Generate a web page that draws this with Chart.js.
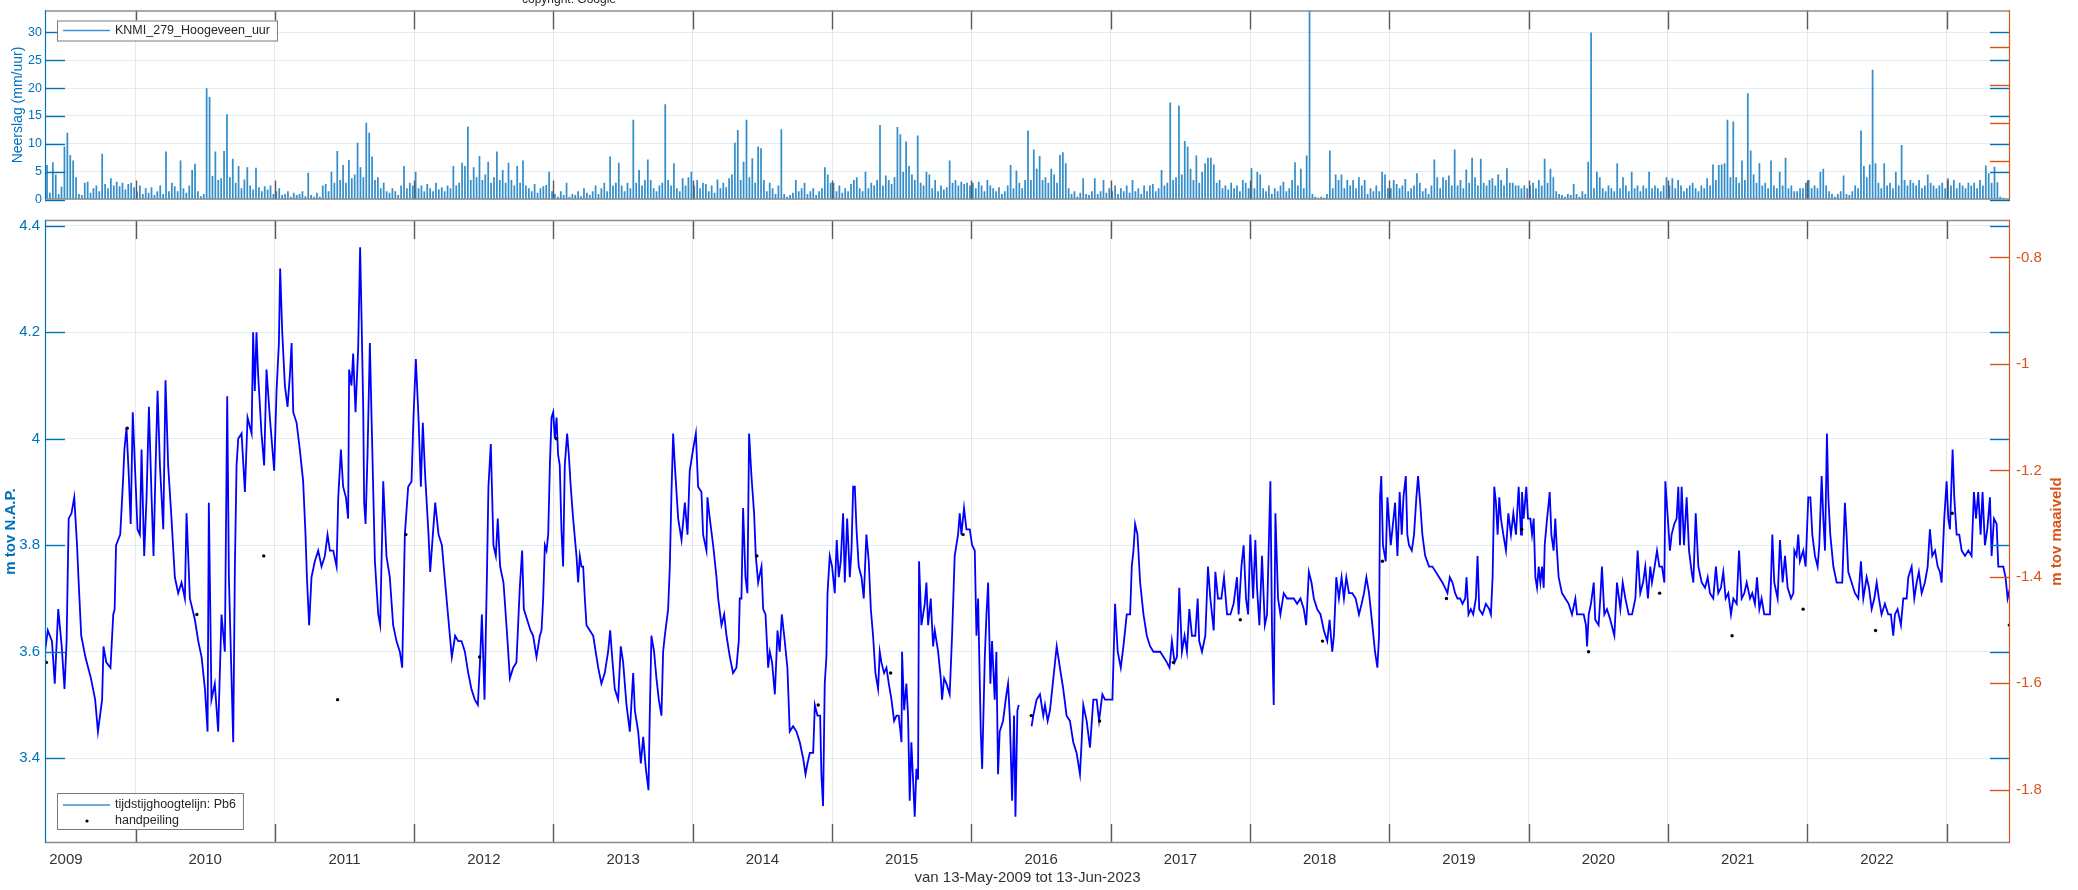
<!DOCTYPE html>
<html>
<head>
<meta charset="utf-8">
<title>Pb6 - tijdstijghoogtelijn</title>
<script src="https://cdn.jsdelivr.net/npm/chart.js@4.4.1/dist/chart.umd.min.js"></script>
<style>
  html, body { margin: 0; padding: 0; background: #fff; }
  #wrap { position: relative; width: 2078px; height: 890px; overflow: hidden; }
  #rain { position: absolute; left: 0; top: 0; }
  #gw { position: absolute; left: 0; top: 205px; }
</style>
</head>
<body>
<div id="wrap">
  <canvas id="rain" width="2078" height="210"></canvas>
  <canvas id="gw" width="2078" height="685"></canvas>
</div>
<script>
// x-axis: decimal years, 13-May-2009 .. 13-Jun-2023
const X_MIN = 2009.35;
const X_MAX = 2023.455;
const yearLabels = ['2009', '2010', '2011', '2012', '2013', '2014', '2015', '2016', '2017', '2018', '2019', '2020', '2021', '2022'];

// tick labels
const rainTicks = [0, 5, 10, 15, 20, 25, 30];
const rainRightTicks = [1, 2, 3, 4];
const napTicks = [3.4, 3.6, 3.8, 4, 4.2, 4.4];
const mvTicks = [-1.8, -1.6, -1.4, -1.2, -1, -0.8];

// precipitation, mm/uur, max per 1/48 year (2009 starts mid-year, 2023 stops in June)
const rain2009 = [6.2,1.2,6.7,4.5,1.0,2.3,9.5,12,8.0,7.0,4.0,1.0,0.8,3.0,3.2,1.2,2.0,2.5,1.5,8.2,2.8,2.0,3.8,2.5,3.2,2.4,3.0,1.8,2.8,3.0,2.2];
const rain2010 = [1.5,2.5,1.0,2.0,1.2,2.2,0.8,1.5,2.5,1.0,8.6,1.5,3.0,2.4,1.5,7.0,2.0,1.2,2.5,5.3,6.4,1.5,0.6,1.0,20,18.4,4.2,8.6,3.5,3.8,8.7,15.3,4.0,7.3,3.0,6.0,2.0,3.6,5.8,2.5,1.8,5.7,2.2,1.5,2.4,1.8,2.5,1.0];
const rain2011 = [1.5,2.0,0.8,1.0,1.5,0.5,1.2,0.8,1.0,1.5,0.6,4.8,0.8,0.5,1.2,0.5,2.5,2.8,1.5,5.0,3.0,8.7,3.5,6.2,3.0,7.1,3.8,4.5,10.2,5.8,4.0,13.8,12.0,7.7,3.5,4.0,2.0,3.0,1.5,1.2,2.0,1.5,0.8,2.5,6.0,2.0,3.0,2.5];
const rain2012 = [5.0,2.0,2.5,1.5,2.8,2.0,1.5,3.0,1.8,2.2,1.5,2.5,2.0,6.0,2.5,3.0,6.6,6.0,13.1,3.5,5.8,4.0,7.8,3.5,4.5,6.8,3.0,4.0,8.6,3.5,5.3,3.0,6.6,3.5,2.5,6.0,3.0,7.0,2.5,2.0,1.5,2.8,1.2,2.0,2.4,2.6,5.0,1.5];
const rain2013 = [1.0,0.5,1.5,0.8,3.0,0.5,1.0,0.8,1.5,0.6,2.0,1.2,0.8,1.5,2.5,1.0,2.0,3.0,1.5,7.7,2.5,3.0,6.6,2.5,1.5,3.0,2.0,14.3,3.0,5.3,2.5,3.5,7.2,3.5,2.0,1.5,2.5,3.0,17.1,3.5,2.5,6.5,2.0,1.5,3.8,2.5,4.0,5.0];
const rain2014 = [2.5,3.5,2.0,3.0,2.8,1.5,2.5,1.2,3.6,2.0,3.0,2.2,3.8,4.5,10.2,12.5,3.5,6.8,14.3,4.0,7.4,3.0,9.5,9.2,3.5,1.5,3.0,2.0,1.0,2.5,12.6,1.0,0.5,0.8,1.2,3.5,1.5,2.0,3.0,1.0,1.5,2.0,0.8,1.5,2.0,5.8,4.5,3.0];
const rain2015 = [3.0,1.5,2.5,1.2,2.0,1.5,2.8,3.5,4.0,2.0,1.5,5.0,2.0,3.0,2.5,3.5,13.4,2.5,4.3,3.5,2.8,4.0,13.0,11.7,5.0,10.4,6.0,4.5,3.5,11.5,3.0,2.5,5.0,4.5,2.0,3.5,1.5,2.5,1.8,2.2,7.0,3.0,3.5,2.5,3.2,2.8,3.0,2.5];
const rain2016 = [3.0,2.0,3.2,2.5,1.5,3.5,2.5,2.0,1.5,2.2,1.0,1.5,2.5,6.2,2.0,5.2,3.0,2.0,3.5,12.4,3.5,9.0,5.5,7.8,3.5,4.0,3.0,5.5,4.5,3.0,8.0,8.5,6.5,2.0,1.0,1.5,0.5,1.2,3.8,1.0,0.8,1.5,3.8,1.0,1.5,3.5,1.2,2.0];
const rain2017 = [1.5,2.5,1.0,2.0,1.5,2.5,1.2,3.5,1.5,2.0,1.0,2.5,1.5,2.5,2.8,1.5,2.0,5.3,2.5,3.0,17.4,3.5,4.0,16.9,4.5,10.5,9.5,5.5,3.5,7.9,3.0,5.0,6.5,7.5,7.5,6.3,3.0,3.5,2.0,2.5,1.8,3.0,2.0,2.5,1.5,3.5,3.0,2.0];
const rain2018 = [5.6,2.0,5.0,4.5,2.0,1.5,2.5,1.0,2.0,1.5,2.5,3.2,1.5,2.0,3.5,6.7,2.5,5.5,2.0,7.9,34,1.0,0.5,0.3,0.5,0.3,1.0,8.8,2.0,4.5,3.5,4.5,2.0,3.5,2.5,3.5,2.0,4.0,2.5,3.5,1.0,2.0,1.5,2.5,1.5,5.0,4.5,2.0];
const rain2019 = [2.0,3.5,2.8,2.0,2.5,3.7,1.5,2.0,2.5,4.7,3.0,1.5,2.0,1.0,2.5,7.2,4.0,2.0,4.0,3.5,4.3,2.5,9.0,2.5,3.5,2.0,5.4,3.0,7.5,4.0,2.5,7.3,3.0,2.5,3.5,3.8,2.5,4.5,3.5,2.5,5.6,3.0,3.0,2.5,2.5,2.0,2.5,2.0];
const rain2020 = [2.5,3.0,2.0,3.5,2.5,7.3,3.0,5.5,4.0,1.5,1.0,0.8,0.5,1.0,0.8,2.8,1.0,0.5,1.5,1.0,6.8,30,2.0,5.0,4.0,2.0,1.5,2.5,2.0,1.5,6.5,2.0,4.0,2.5,1.5,5.0,2.0,2.5,1.5,2.5,2.0,5.0,2.0,2.5,2.0,1.5,2.5,4.0];
const rain2021 = [2.5,3.8,2.0,3.5,2.5,1.5,2.0,2.5,3.0,2.0,1.5,2.5,2.0,3.8,2.5,6.3,3.5,6.2,6.3,6.5,14.3,4.0,14.0,4.0,3.0,7.0,3.5,19.1,8.8,4.5,3.0,6.5,2.5,3.0,2.0,7.0,2.5,2.0,5.0,2.5,7.5,2.0,2.5,1.5,1.5,2.0,2.0,3.0];
const rain2022 = [3.5,2.0,2.5,2.0,5.0,5.5,2.5,1.5,1.0,0.5,1.0,1.5,4.3,1.0,0.8,1.5,2.5,2.0,12.4,6.0,4.0,6.3,23.3,6.5,3.0,2.0,6.5,2.5,3.0,2.0,5.0,2.5,9.8,3.5,2.5,3.5,3.0,2.5,3.5,2.0,2.5,4.5,3.0,2.5,2.0,2.5,3.0,2.0];
const rain2023 = [3.8,2.5,3.5,2.0,3.0,2.5,2.0,3.0,2.5,3.0,2.0,3.5,2.5,6.1,4.7,3.0,5.9,3.1,0.5,0.3,0.2,0.2];

// stijghoogte Pb6, m tov N.A.P., as [fraction of year, level]
const gw2009 = [[.35,3.60],[.37,3.64],[.40,3.62],[.42,3.54],[.445,3.68],[.47,3.61],[.49,3.53],[.505,3.62],[.52,3.85],[.54,3.86],[.56,3.89],[.58,3.80],[.59,3.74],[.61,3.63],[.64,3.59],[.66,3.57],[.68,3.55],[.71,3.51],[.73,3.45],[.76,3.51],[.77,3.61],[.79,3.58],[.82,3.57],[.84,3.67],[.85,3.68],[.86,3.80],[.89,3.82],[.91,3.92],[.92,3.98],[.935,4.02],[.95,3.94],[.965,3.84],[.98,4.05]];
const gw2010 = [[.014,3.83],[.031,3.82],[.043,3.98],[.062,3.78],[.079,3.89],[.096,4.06],[.115,3.89],[.129,3.78],[.144,3.95],[.158,4.09],[.175,3.95],[.199,3.83],[.215,4.11],[.234,3.95],[.258,3.85],[.282,3.74],[.306,3.71],[.33,3.73],[.354,3.70],[.366,3.86],[.39,3.70],[.426,3.66],[.45,3.62],[.474,3.59],[.498,3.53],[.517,3.45],[.526,3.88],[.545,3.51],[.569,3.54],[.593,3.45],[.617,3.67],[.641,3.60],[.658,4.08],[.67,3.74],[.689,3.55],[.701,3.43],[.713,3.76],[.725,3.95],[.737,4.00],[.761,4.01],[.785,3.90],[.804,4.04],[.833,4.01],[.844,4.20],[.856,4.09],[.868,4.20],[.88,4.12],[.904,4.01],[.923,3.95],[.94,4.13],[.964,4.04],[.995,3.94]];
const gw2011 = [[.012,4.09],[.029,4.18],[.038,4.32],[.053,4.20],[.072,4.10],[.091,4.06],[.108,4.12],[.12,4.18],[.132,4.05],[.156,4.03],[.179,3.98],[.203,3.92],[.22,3.82],[.23,3.74],[.246,3.65],[.263,3.74],[.287,3.77],[.311,3.79],[.335,3.76],[.359,3.78],[.378,3.82],[.395,3.79],[.419,3.79],[.443,3.76],[.455,3.89],[.474,3.98],[.49,3.91],[.51,3.89],[.526,3.85],[.533,4.13],[.55,4.10],[.562,4.16],[.579,4.05],[.598,4.17],[.612,4.36],[.622,4.23],[.634,4.06],[.641,3.88],[.651,3.84],[.665,3.97],[.682,4.18],[.694,4.04],[.718,3.77],[.742,3.67],[.756,3.65],[.778,3.92],[.801,3.78],[.825,3.74],[.849,3.65],[.873,3.62],[.897,3.60],[.914,3.57],[.933,3.82],[.957,3.91],[.981,3.92],[.995,4.04]];
const gw2012 = [[.012,4.15],[.031,4.04],[.048,3.91],[.062,4.03],[.079,3.93],[.103,3.82],[.115,3.75],[.134,3.82],[.151,3.88],[.175,3.82],[.199,3.80],[.222,3.73],[.246,3.66],[.27,3.59],[.294,3.63],[.316,3.62],[.34,3.62],[.364,3.60],[.388,3.56],[.411,3.53],[.435,3.51],[.457,3.50],[.474,3.59],[.486,3.67],[.505,3.51],[.522,3.74],[.533,3.91],[.55,3.99],[.569,3.80],[.586,3.78],[.60,3.85],[.617,3.76],[.641,3.73],[.665,3.64],[.687,3.55],[.711,3.57],[.734,3.58],[.758,3.72],[.775,3.79],[.787,3.68],[.811,3.66],[.835,3.64],[.854,3.63],[.878,3.59],[.902,3.63],[.914,3.64],[.926,3.70],[.938,3.80],[.95,3.79],[.962,3.82],[.974,3.95],[.986,4.04],[.998,4.05]];
const gw2013 = [[.01,4.00],[.022,4.04],[.033,3.97],[.045,3.95],[.057,3.83],[.069,3.76],[.081,3.95],[.098,4.01],[.11,3.97],[.124,3.91],[.141,3.85],[.165,3.78],[.177,3.73],[.189,3.78],[.201,3.76],[.213,3.76],[.225,3.70],[.237,3.65],[.261,3.64],[.285,3.63],[.309,3.59],[.321,3.57],[.344,3.54],[.368,3.56],[.392,3.60],[.407,3.64],[.421,3.59],[.44,3.53],[.464,3.51],[.483,3.61],[.50,3.58],[.524,3.50],[.548,3.45],[.572,3.56],[.584,3.49],[.608,3.45],[.627,3.39],[.644,3.44],[.663,3.38],[.682,3.34],[.691,3.48],[.703,3.63],[.722,3.60],[.739,3.55],[.756,3.51],[.775,3.48],[.787,3.60],[.799,3.63],[.823,3.68],[.835,3.76],[.847,3.90],[.859,4.01],[.871,3.95],[.895,3.85],[.919,3.81],[.943,3.88],[.962,3.82],[.978,3.94]];
const gw2014 = [[.002,3.98],[.022,4.01],[.038,3.91],[.062,3.90],[.074,3.82],[.098,3.79],[.105,3.89],[.122,3.85],[.146,3.80],[.17,3.74],[.182,3.70],[.206,3.65],[.225,3.67],[.242,3.63],[.266,3.59],[.289,3.56],[.313,3.57],[.33,3.62],[.337,3.70],[.349,3.70],[.361,3.87],[.378,3.74],[.392,3.71],[.404,4.01],[.421,3.93],[.44,3.86],[.452,3.78],[.469,3.73],[.493,3.76],[.505,3.68],[.522,3.67],[.541,3.57],[.553,3.60],[.569,3.58],[.589,3.52],[.608,3.64],[.624,3.60],[.639,3.67],[.656,3.63],[.679,3.57],[.696,3.45],[.72,3.46],[.744,3.45],[.768,3.43],[.792,3.40],[.809,3.37],[.823,3.39],[.84,3.41],[.864,3.41],[.876,3.50],[.895,3.48],[.914,3.48],[.923,3.37],[.935,3.31],[.947,3.54],[.959,3.59],[.967,3.71],[.983,3.78]];
const gw2015 = [[0,3.76],[.019,3.71],[.033,3.81],[.048,3.74],[.062,3.77],[.079,3.86],[.091,3.73],[.108,3.85],[.127,3.74],[.139,3.79],[.151,3.91],[.163,3.91],[.175,3.83],[.191,3.76],[.211,3.74],[.227,3.70],[.246,3.82],[.263,3.77],[.278,3.68],[.294,3.63],[.311,3.56],[.33,3.53],[.342,3.60],[.354,3.58],[.373,3.56],[.39,3.57],[.407,3.54],[.426,3.51],[.445,3.47],[.462,3.48],[.478,3.48],[.498,3.43],[.502,3.60],[.517,3.49],[.533,3.54],[.545,3.48],[.557,3.32],[.569,3.43],[.581,3.36],[.593,3.29],[.605,3.38],[.617,3.36],[.624,3.77],[.641,3.65],[.665,3.69],[.677,3.73],[.689,3.65],[.708,3.70],[.725,3.61],[.737,3.64],[.761,3.60],[.78,3.55],[.789,3.51],[.804,3.55],[.821,3.54],[.844,3.52],[.861,3.63],[.88,3.78],[.904,3.82],[.916,3.86],[.928,3.82],[.947,3.87],[.964,3.83],[.988,3.83]];
const gw2016 = [[.005,3.80],[.024,3.79],[.036,3.63],[.048,3.70],[.067,3.45],[.077,3.38],[.096,3.59],[.108,3.67],[.12,3.73],[.136,3.54],[.148,3.62],[.167,3.51],[.179,3.60],[.191,3.37],[.203,3.45],[.227,3.47],[.251,3.52],[.263,3.54],[.275,3.48],[.292,3.32],[.306,3.48],[.316,3.29],[.33,3.49],[.34,3.50],[.36,null],[.432,3.46],[.444,3.48],[.468,3.51],[.492,3.52],[.516,3.48],[.528,3.50],[.547,3.47],[.564,3.49],[.588,3.55],[.612,3.61],[.635,3.57],[.659,3.53],[.683,3.48],[.707,3.47],[.731,3.43],[.755,3.41],[.779,3.37],[.791,3.43],[.803,3.50],[.827,3.47],[.851,3.42],[.875,3.51],[.899,3.51],[.916,3.47],[.94,3.52],[.959,3.51],[.983,3.51]];
const gw2017 = [[.012,3.51],[.031,3.69],[.05,3.60],[.072,3.57],[.091,3.61],[.115,3.67],[.139,3.67],[.151,3.76],[.163,3.79],[.175,3.84],[.192,3.82],[.211,3.73],[.235,3.67],[.259,3.63],[.283,3.61],[.307,3.60],[.331,3.60],[.355,3.60],[.379,3.59],[.403,3.58],[.422,3.57],[.439,3.62],[.458,3.58],[.475,3.59],[.492,3.72],[.511,3.60],[.53,3.63],[.547,3.60],[.564,3.68],[.583,3.63],[.607,3.63],[.624,3.70],[.635,3.62],[.655,3.60],[.679,3.63],[.698,3.76],[.715,3.70],[.739,3.64],[.751,3.75],[.77,3.70],[.794,3.70],[.813,3.74],[.835,3.67],[.859,3.67],[.882,3.69],[.906,3.74],[.918,3.67],[.938,3.76],[.954,3.80],[.971,3.70],[.986,3.67]];
const gw2018 = [[.002,3.82],[.022,3.70],[.038,3.81],[.05,3.72],[.067,3.65],[.086,3.78],[.106,3.65],[.122,3.67],[.146,3.92],[.158,3.63],[.17,3.50],[.182,3.86],[.201,3.70],[.218,3.67],[.242,3.71],[.266,3.70],[.29,3.70],[.314,3.70],[.338,3.69],[.362,3.70],[.386,3.68],[.403,3.65],[.422,3.75],[.441,3.73],[.458,3.70],[.482,3.68],[.506,3.67],[.53,3.64],[.554,3.62],[.571,3.66],[.59,3.60],[.602,3.63],[.619,3.74],[.638,3.70],[.657,3.74],[.674,3.70],[.691,3.74],[.71,3.71],[.734,3.71],[.758,3.70],[.782,3.67],[.801,3.69],[.818,3.71],[.835,3.74],[.854,3.71],[.878,3.65],[.897,3.60],[.914,3.57],[.926,3.63],[.933,3.89],[.942,3.93],[.954,3.80],[.974,3.77],[.986,3.89]];
const gw2019 = [[.01,3.80],[.022,3.83],[.041,3.88],[.058,3.78],[.074,3.90],[.089,3.82],[.101,3.89],[.118,3.93],[.129,3.82],[.141,3.80],[.161,3.79],[.177,3.82],[.194,3.89],[.206,3.93],[.221,3.88],[.237,3.82],[.257,3.78],[.285,3.76],[.309,3.76],[.333,3.75],[.357,3.74],[.381,3.73],[.40,3.72],[.417,3.71],[.434,3.74],[.453,3.73],[.472,3.71],[.489,3.70],[.508,3.70],[.525,3.69],[.544,3.70],[.554,3.74],[.568,3.67],[.585,3.68],[.602,3.67],[.621,3.70],[.633,3.78],[.645,3.68],[.669,3.67],[.693,3.69],[.717,3.68],[.729,3.67],[.741,3.74],[.753,3.91],[.765,3.88],[.777,3.82],[.789,3.89],[.801,3.85],[.818,3.82],[.837,3.79],[.854,3.86],[.873,3.82],[.89,3.86],[.909,3.82],[.928,3.91],[.945,3.82],[.952,3.90],[.964,3.85],[.983,3.91],[.995,3.85]];
const gw2020 = [[.012,3.85],[.024,3.82],[.036,3.85],[.048,3.74],[.06,3.72],[.072,3.76],[.084,3.73],[.096,3.76],[.108,3.72],[.115,3.80],[.132,3.85],[.144,3.88],[.151,3.90],[.163,3.82],[.179,3.79],[.191,3.85],[.203,3.79],[.215,3.74],[.239,3.71],[.263,3.70],[.287,3.69],[.311,3.67],[.335,3.70],[.347,3.67],[.371,3.67],[.395,3.67],[.411,3.65],[.419,3.61],[.431,3.67],[.447,3.69],[.467,3.73],[.478,3.66],[.502,3.65],[.514,3.70],[.526,3.76],[.543,3.67],[.562,3.68],[.586,3.66],[.615,3.63],[.634,3.73],[.658,3.68],[.675,3.73],[.694,3.70],[.718,3.67],[.742,3.67],[.766,3.70],[.782,3.79],[.801,3.71],[.821,3.73],[.837,3.76],[.856,3.70],[.873,3.76],[.885,3.73],[.904,3.76],[.921,3.79],[.938,3.76],[.957,3.76],[.974,3.73],[.981,3.92]];
const gw2021 = [[.014,3.79],[.026,3.82],[.045,3.84],[.062,3.85],[.074,3.91],[.086,3.80],[.098,3.91],[.115,3.80],[.134,3.89],[.151,3.79],[.17,3.75],[.182,3.73],[.199,3.86],[.218,3.76],[.242,3.73],[.266,3.72],[.285,3.74],[.301,3.71],[.325,3.70],[.344,3.76],[.361,3.71],[.38,3.72],[.397,3.75],[.414,3.70],[.433,3.71],[.452,3.67],[.469,3.70],[.493,3.69],[.51,3.79],[.529,3.70],[.548,3.71],[.565,3.73],[.589,3.70],[.605,3.71],[.624,3.69],[.639,3.74],[.656,3.68],[.672,3.70],[.691,3.67],[.708,3.67],[.732,3.67],[.749,3.82],[.763,3.73],[.787,3.70],[.804,3.81],[.823,3.73],[.84,3.78],[.859,3.72],[.883,3.70],[.90,3.71],[.907,3.79],[.923,3.78],[.935,3.82],[.947,3.77],[.971,3.79],[.988,3.76]];
const gw2022 = [[.007,3.89],[.022,3.89],[.036,3.82],[.055,3.78],[.074,3.76],[.086,3.80],[.103,3.93],[.115,3.85],[.127,3.79],[.141,4.01],[.151,3.89],[.165,3.82],[.187,3.76],[.211,3.73],[.234,3.73],[.251,3.73],[.27,3.88],[.282,3.82],[.294,3.75],[.318,3.73],[.342,3.71],[.366,3.70],[.385,3.77],[.402,3.70],[.426,3.74],[.443,3.72],[.462,3.68],[.481,3.70],[.498,3.73],[.514,3.70],[.533,3.67],[.557,3.69],[.581,3.67],[.60,3.67],[.617,3.63],[.629,3.67],[.648,3.68],[.672,3.65],[.689,3.70],[.713,3.70],[.725,3.74],[.749,3.76],[.768,3.70],[.785,3.73],[.801,3.75],[.821,3.71],[.844,3.73],[.864,3.76],[.88,3.83],[.897,3.78],[.917,3.79],[.936,3.76],[.952,3.75],[.964,3.73],[.983,3.85]];
const gw2023 = [[0,3.92],[.012,3.85],[.024,3.83],[.043,3.98],[.055,3.89],[.072,3.82],[.091,3.82],[.108,3.79],[.132,3.78],[.156,3.79],[.179,3.78],[.196,3.90],[.211,3.85],[.227,3.90],[.244,3.82],[.258,3.90],[.275,3.80],[.292,3.83],[.311,3.89],[.323,3.78],[.34,3.85],[.359,3.84],[.371,3.76],[.39,3.76],[.407,3.76],[.423,3.74],[.438,3.70],[.455,3.72]];

// handpeilingen (m tov N.A.P.)
const handDatum = [2009.36, 2009.94, 2010.44, 2010.92, 2011.45, 2011.94, 2012.47, 2013.02, 2014.46, 2014.90, 2015.42, 2015.94, 2016.43, 2016.92, 2017.45, 2017.93, 2018.52, 2018.95, 2019.41, 2019.95, 2020.43, 2020.94, 2021.46, 2021.97, 2022.49, 2023.04, 2023.45];
const handNAP = [3.58, 4.02, 3.67, 3.78, 3.51, 3.82, 3.59, 4.00, 3.78, 3.50, 3.56, 3.82, 3.48, 3.47, 3.58, 3.66, 3.62, 3.77, 3.70, 3.83, 3.60, 3.71, 3.63, 3.68, 3.64, 3.86, 3.65];

const BLUE = '#0072BD';
const ORANGE = '#D95319';
const LINE_BLUE = '#0000FF';
const TEXT = '#262626';
const FRAME = '#8c8c8c';
const YEAR_TICK = '#5a5a5a';
const GRID_H = 'rgba(0,114,189,0.12)';
const GRID_V = 'rgba(60,60,60,0.12)';
const TICK_LEN = 19;

// y limits
const RAIN_MAX = 33.94;
const NAP_MIN = 3.2407, NAP_MAX = 4.411;
const MV_MIN = -1.9, MV_MAX = -0.7296;

Chart.defaults.font.family = "'Liberation Sans', Arial, Helvetica, sans-serif";
Chart.defaults.color = TEXT;

// build the series
const rainYears = [rain2009, rain2010, rain2011, rain2012, rain2013, rain2014, rain2015, rain2016, rain2017, rain2018, rain2019, rain2020, rain2021, rain2022, rain2023];
const rainPoints = [];
rainYears.forEach((arr, k) => {
  const year = 2009 + k;
  const offset = k === 0 ? 48 - arr.length : 0;   // first year starts in May
  arr.forEach((v, i) => rainPoints.push({ x: year + (i + offset + 0.5) / 48, y: v }));
});

const gwYears = [gw2009, gw2010, gw2011, gw2012, gw2013, gw2014, gw2015, gw2016, gw2017, gw2018, gw2019, gw2020, gw2021, gw2022, gw2023];
const gwPoints = [];
gwYears.forEach((arr, k) => {
  arr.forEach(([f, v]) => gwPoints.push({ x: 2009 + k + f, y: v }));
});

const handPoints = handDatum.map((d, i) => ({ x: d, y: handNAP[i] }));

function setYearTicks(scale) {
  const t = [];
  yearLabels.forEach(y => {
    t.push({ value: +y + 0.5 });
    t.push({ value: +y + 1 });
  });
  scale.ticks = t;
}
const yearGrid = c => (c.tick && Number.isInteger(c.tick.value)) ? GRID_V : 'rgba(0,0,0,0)';
const fmt = v => String(Math.round(v * 10) / 10);

// MATLAB style box: inward ticks, coloured y axes, legend drawn inside the axes
const matlabAxes = {
  id: 'matlabAxes',
  afterDraw(chart, args, o) {
    const { ctx, chartArea: a, scales } = chart;
    const seg = (x1, y1, x2, y2, color, w) => {
      ctx.strokeStyle = color; ctx.lineWidth = w;
      ctx.beginPath(); ctx.moveTo(x1, y1); ctx.lineTo(x2, y2); ctx.stroke();
    };
    ctx.save();

    scales.x.ticks.filter(t => Number.isInteger(t.value)).forEach(t => {
      const px = Math.round(scales.x.getPixelForValue(t.value)) + 0.5;
      seg(px, a.top, px, a.top + TICK_LEN, YEAR_TICK, 1.4);
      seg(px, a.bottom, px, a.bottom - TICK_LEN, YEAR_TICK, 1.4);
    });

    const ly = scales[o.leftAxis];
    ly.ticks.forEach(t => {
      const py = Math.round(ly.getPixelForValue(t.value)) + 0.5;
      seg(a.left, py, a.left + TICK_LEN + 1, py, BLUE, 1.4);
      seg(a.right, py, a.right - TICK_LEN - 1, py, BLUE, 1.4);
    });
    const ry = scales[o.rightAxis];
    ry.ticks.forEach(t => {
      const py = Math.round(ry.getPixelForValue(t.value)) + 0.5;
      seg(a.right, py, a.right - TICK_LEN - 1, py, ORANGE, 1.4);
    });

    seg(a.left, a.top + 0.5, a.right, a.top + 0.5, FRAME, 1.5);
    seg(a.left, a.bottom - 0.5, a.right, a.bottom - 0.5, FRAME, 1.5);
    seg(a.left + 0.5, a.top, a.left + 0.5, a.bottom, BLUE, 1.2);
    seg(a.right - 0.5, a.top, a.right - 0.5, a.bottom, ORANGE, 1.2);

    // legend
    const lg = o.legend;
    ctx.font = "12.5px 'Liberation Sans', Arial, sans-serif";
    const textW = Math.max(...lg.rows.map(r => ctx.measureText(r.text).width));
    const bx = a.left + lg.dx, by = lg.dy >= 0 ? a.top + lg.dy : a.bottom + lg.dy - lg.h;
    const bw = 58 + textW + 7;
    ctx.fillStyle = '#fff';
    ctx.fillRect(bx, by, bw, lg.h);
    ctx.strokeStyle = '#7a7a7a'; ctx.lineWidth = 1;
    ctx.strokeRect(bx + 0.5, by + 0.5, bw, lg.h);
    lg.rows.forEach((r, i) => {
      const cy = by + lg.first + i * 16;
      if (r.kind === 'line') {
        seg(bx + 6, cy, bx + 53, cy, r.color, 1.5);
      } else {
        ctx.fillStyle = r.color;
        ctx.beginPath(); ctx.arc(bx + 30, cy, 1.6, 0, Math.PI * 2); ctx.fill();
      }
      ctx.fillStyle = TEXT; ctx.textAlign = 'left'; ctx.textBaseline = 'middle';
      ctx.fillText(r.text, bx + 58, cy);
    });

    // right-hand y label reads bottom to top, as in the original
    if (o.rightTitle) {
      ctx.save();
      ctx.translate(a.right + o.rightTitle.dx, (a.top + a.bottom) / 2);
      ctx.rotate(-Math.PI / 2);
      ctx.font = "bold 15px 'Liberation Sans', Arial, sans-serif";
      ctx.fillStyle = ORANGE; ctx.textAlign = 'center'; ctx.textBaseline = 'middle';
      ctx.fillText(o.rightTitle.text, 0, 0);
      ctx.restore();
    }
    // title text that is cut off at the top of the figure
    if (o.header) {
      ctx.font = "12px 'Liberation Sans', Arial, sans-serif";
      ctx.fillStyle = TEXT; ctx.textAlign = 'center'; ctx.textBaseline = 'alphabetic';
      ctx.fillText(o.header.text, o.header.x, o.header.y);
    }
    ctx.restore();
  }
};

new Chart(document.getElementById('rain'), {
  type: 'bar',
  data: {
    datasets: [{
      label: 'KNMI_279_Hoogeveen_uur',
      data: rainPoints,
      backgroundColor: 'rgba(0,114,189,0.8)',
      borderWidth: 0,
      barPercentage: 0.6,
      categoryPercentage: 1
    }]
  },
  options: {
    responsive: false,
    animation: false,
    layout: { padding: { top: 5, bottom: 7, left: 0, right: 0 } },
    plugins: {
      legend: { display: false },
      tooltip: { enabled: false },
      matlabAxes: {
        leftAxis: 'y', rightAxis: 'yR',
        legend: { dx: 12, dy: 10, h: 20, first: 10, rows: [{ kind: 'line', color: '#3d8fd0', text: 'KNMI_279_Hoogeveen_uur' }] },
        header: { text: 'copyright: Google', x: 569, y: 2.5 }
      }
    },
    scales: {
      x: {
        type: 'linear', min: X_MIN, max: X_MAX, offset: false,
        afterBuildTicks: setYearTicks,
        ticks: { display: false },
        grid: { color: yearGrid, drawTicks: false, offset: false },
        border: { display: false },
        afterFit: s => { s.height = 0; }
      },
      y: {
        position: 'left', min: 0, max: RAIN_MAX,
        afterBuildTicks: s => { s.ticks = rainTicks.map(v => ({ value: v })); },
        ticks: { color: BLUE, font: { size: 12.5 }, padding: 3, callback: fmt },
        grid: { color: GRID_H, drawTicks: false },
        border: { display: false },
        title: { display: true, text: 'Neerslag (mm/uur)', color: BLUE, font: { size: 14 }, padding: { top: 10, bottom: 0 } },
        afterFit: s => { s.width = 45; }
      },
      yR: {
        position: 'right', min: 0, max: 4.95,
        afterBuildTicks: s => { s.ticks = rainRightTicks.map(v => ({ value: v })); },
        ticks: { display: false },
        grid: { display: false, drawTicks: false },
        border: { display: false },
        afterFit: s => { s.width = 68; }
      }
    }
  },
  plugins: [matlabAxes]
});

new Chart(document.getElementById('gw'), {
  type: 'line',
  data: {
    datasets: [
      {
        label: 'handpeiling',
        data: handPoints,
        showLine: false,
        pointRadius: 1.7,
        pointBorderWidth: 0,
        pointBackgroundColor: '#000',
        order: 0
      },
      {
        label: 'tijdstijghoogtelijn: Pb6',
        data: gwPoints,
        borderColor: LINE_BLUE,
        borderWidth: 1.8,
        pointRadius: 0,
        tension: 0,
        spanGaps: false,
        order: 1
      }
    ]
  },
  options: {
    responsive: false,
    animation: false,
    layout: { padding: { top: 6, bottom: 0, left: 0, right: 0 } },
    plugins: {
      legend: { display: false },
      tooltip: { enabled: false },
      matlabAxes: {
        leftAxis: 'y', rightAxis: 'y2',
        legend: { dx: 12, dy: -14, h: 36, first: 12, rows: [
          { kind: 'line', color: '#3d8fd0', text: 'tijdstijghoogtelijn: Pb6' },
          { kind: 'dot', color: '#000', text: 'handpeiling' }
        ] },
        rightTitle: { text: 'm tov maaiveld', dx: 47 }
      }
    },
    scales: {
      x: {
        type: 'linear', min: X_MIN, max: X_MAX,
        afterBuildTicks: setYearTicks,
        ticks: {
          autoSkip: false, maxRotation: 0, padding: 8, color: '#333', font: { size: 15 },
          callback: v => Number.isInteger(v) ? '' : String(Math.floor(v))
        },
        grid: { color: yearGrid, drawTicks: false },
        border: { display: false },
        title: { display: true, text: 'van 13-May-2009 tot 13-Jun-2023', color: '#333', font: { size: 15 }, padding: { top: 0, bottom: 3 } },
        afterFit: s => { s.height = 47; }
      },
      y: {
        position: 'left', min: NAP_MIN, max: NAP_MAX,
        afterBuildTicks: s => { s.ticks = napTicks.map(v => ({ value: v })); },
        ticks: { color: BLUE, font: { size: 15 }, padding: 5, callback: fmt },
        grid: { color: GRID_H, drawTicks: false },
        border: { display: false },
        title: { display: true, text: 'm tov N.A.P.', color: BLUE, font: { size: 15, weight: 'bold' }, padding: { top: 2, bottom: 0 } },
        afterFit: s => { s.width = 45; }
      },
      y2: {
        position: 'right', min: MV_MIN, max: MV_MAX,
        afterBuildTicks: s => { s.ticks = mvTicks.map(v => ({ value: v })); },
        ticks: { color: ORANGE, font: { size: 15 }, padding: 6, callback: fmt },
        grid: { display: false, drawTicks: false },
        border: { display: false },
        afterFit: s => { s.width = 68; }
      }
    }
  },
  plugins: [matlabAxes]
});
</script>
</body>
</html>
